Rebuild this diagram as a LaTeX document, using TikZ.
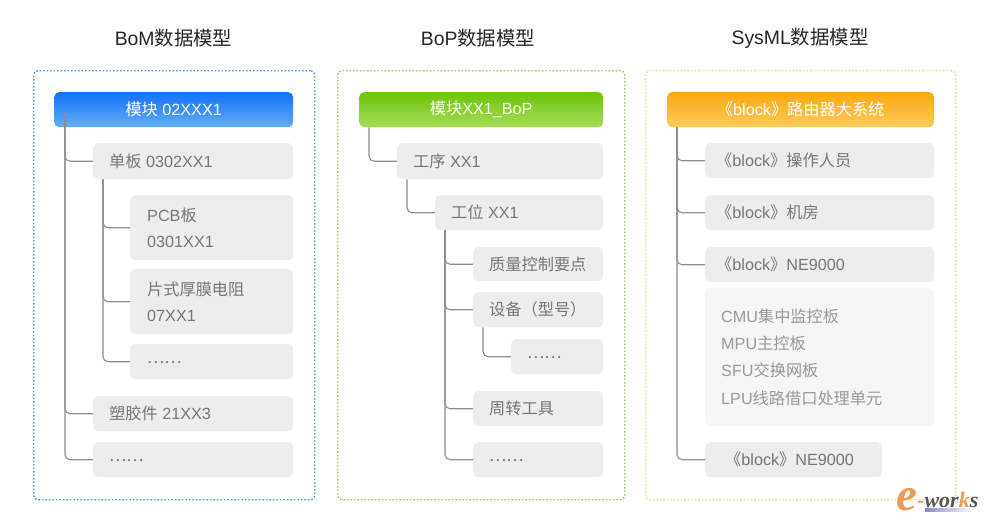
\documentclass[tikz,border=0pt]{standalone}
\usepackage{fontspec}
\setmainfont{Liberation Sans}
\newfontfamily\cjk{Noto Sans CJK SC}
\newfontfamily\logofont{Liberation Serif}
\newcommand{\zh}[1]{{\cjk #1}}
\newcommand{\dotsz}{\raisebox{-2.5pt}[\height][\depth]{\zh{……}}}
\definecolor{txtgray}{HTML}{777777}
\definecolor{txtlight}{HTML}{999999}
\definecolor{boxfill}{HTML}{EDEDED}
\definecolor{boxlight}{HTML}{F6F6F6}
\definecolor{linegray}{HTML}{8E8E8E}
\tikzset{
  x=1pt,y=-1pt,
  framebox/.style={draw=#1,line width=1.4pt,dash pattern=on 1.5pt off 2pt,rounded corners=4pt},
  hdr/.style n args={2}{anchor=north west,rounded corners=5pt,top color=#1,bottom color=#2,text=white,
    font=\fontsize{16.2}{18}\selectfont,inner sep=0pt,align=center},
  gbox/.style={anchor=north west,rounded corners=5pt,fill=boxfill,text=txtgray,
    font=\fontsize{16.2}{25.5}\selectfont,inner sep=0pt},
  lbox/.style={gbox,fill=boxlight,text=txtlight},
  conn/.style={draw=linegray,line width=1.1pt,rounded corners=5pt},
  ttl/.style={font=\fontsize{19.4}{22}\selectfont,text=black!85,inner sep=0pt},
}
\newcommand{\lb}[7]{%
  \pgfmathsetlengthmacro{\bw}{#4-#2}\pgfmathsetlengthmacro{\bh}{#5-#3}%
  \pgfmathsetlengthmacro{\tw}{#4-#2-#6}%
  \node[gbox,minimum width=\bw,minimum height=\bh] (#1) at (#2,#3)
    {\hspace*{#6pt}\parbox[c]{\tw}{\raggedright #7}};}
\newcommand{\hb}[8]{%
  \pgfmathsetlengthmacro{\bw}{#4-#2}\pgfmathsetlengthmacro{\bh}{#5-#3}%
  \node[hdr={#6}{#7},minimum width=\bw,minimum height=\bh] (#1) at (#2,#3) {#8};}
\begin{document}
\begin{tikzpicture}
\useasboundingbox (0,0) rectangle (989,523);
\fill[white] (0,0) rectangle (989,523);
% titles
\node[ttl] (t1) at (173.5,38) {BoM\zh{数据模型}};
\node[ttl] (t2) at (478,38) {BoP\zh{数据模型}};
\node[ttl] (t3) at (800,38) {SysML\zh{数据模型}};
% frames
\definecolor{fblue}{HTML}{4C94DC}
\definecolor{fgreen}{HTML}{92C95A}
\definecolor{forange}{HTML}{F9D27A}
\node[framebox=fblue,minimum width=281pt,minimum height=429pt,anchor=north west] (f1) at (33,70) {};
\node[framebox=fgreen,minimum width=287pt,minimum height=429pt,anchor=north west] (f2) at (337,70) {};
\node[framebox=forange,minimum width=310pt,minimum height=429pt,anchor=north west] (f3) at (645,70) {};
% column 1
\definecolor{bluetop}{HTML}{1471FB}\definecolor{bluebot}{HTML}{62AEF5}
\hb{a0}{54}{92}{293}{127}{bluetop}{bluebot}{\zh{模块} 02XXX1}
\lb{a1}{93}{143}{293}{179}{16}{\zh{单板} 0302XX1}
\lb{a2}{130}{195}{293}{260}{17}{PCB\zh{板}\\0301XX1}
\lb{a3}{130}{269}{293}{334}{17}{\zh{片式厚膜电阻}\\07XX1}
\lb{a4}{130}{344}{293}{379}{17}{\dotsz}
\lb{a5}{93}{396}{293}{431}{16}{\zh{塑胶件} 21XX3}
\lb{a6}{93}{442}{293}{477}{16}{\dotsz}
\coordinate (a0s) at ([shift={(11,-14)}]a0.south west);
\draw[conn] (a0s) |- (a1.west);
\draw[conn] (a0s) |- (a5.west);
\draw[conn] (a0s) |- (a6.west);
\draw[conn] ([xshift=10pt]a1.south west) |- (a2.west);
\draw[conn] ([xshift=10pt]a1.south west) |- (a3.west);
\draw[conn] ([xshift=10pt]a1.south west) |- (a4.west);
% column 2
\definecolor{greentop}{HTML}{6CC508}\definecolor{greenbot}{HTML}{A5DC5A}
\hb{b0}{359}{92}{603}{127}{greentop}{greenbot}{\zh{模块}XX1\_BoP}
\lb{b1}{397}{143}{603}{179}{16}{\zh{工序} XX1}
\lb{b2}{435}{195}{603}{230}{16}{\zh{工位} XX1}
\lb{b3}{473}{247}{603}{281}{16}{\zh{质量控制要点}}
\lb{b4}{473}{292}{603}{327}{16}{\zh{设备（型号）}}
\lb{b5}{511}{339}{603}{374}{16}{\dotsz}
\lb{b6}{473}{391}{603}{426}{16}{\zh{周转工具}}
\lb{b7}{473}{442}{603}{477}{16}{\dotsz}
\draw[conn] ([xshift=10pt]b0.south west) |- (b1.west);
\draw[conn] ([xshift=10pt]b1.south west) |- (b2.west);
\draw[conn] ([xshift=10pt]b2.south west) |- (b3.west);
\draw[conn] ([xshift=10pt]b2.south west) |- (b4.west);
\draw[conn] ([xshift=10pt]b2.south west) |- (b6.west);
\draw[conn] ([xshift=10pt]b2.south west) |- (b7.west);
\draw[conn] ([xshift=10pt]b4.south west) |- (b5.west);
% column 3
\definecolor{orangetop}{HTML}{FBA90F}\definecolor{orangebot}{HTML}{FCCB5C}
\hb{c0}{667}{92}{934}{127}{orangetop}{orangebot}{\zh{《}block\zh{》路由器大系统}}
\lb{c1}{705}{143}{934}{178}{11}{\zh{《}block\zh{》操作人员}}
\lb{c2}{705}{195}{934}{230}{11}{\zh{《}block\zh{》机房}}
\lb{c3}{705}{247}{934}{282}{11}{\zh{《}block\zh{》}NE9000}
\pgfmathsetlengthmacro{\bw}{229}\pgfmathsetlengthmacro{\bh}{138}
\node[lbox,minimum width=\bw,minimum height=\bh,font=\fontsize{16.2}{27.2}\selectfont] (c4) at (705,288)
  {\hspace*{16pt}\parbox[c]{213pt}{\raggedright CMU\zh{集中监控板}\\MPU\zh{主控板}\\SFU\zh{交换网板}\\LPU\zh{线路借口处理单元}}};
\lb{c5}{705}{442}{882}{477}{20}{\zh{《}block\zh{》}NE9000}
\draw[conn] ([xshift=10pt]c0.south west) |- (c1.west);
\draw[conn] ([xshift=10pt]c0.south west) |- (c2.west);
\draw[conn] ([xshift=10pt]c0.south west) |- (c3.west);
\draw[conn] ([xshift=10pt]c0.south west) |- (c5.west);
% e-works logo
\definecolor{logoorange}{HTML}{EE9A55}
\definecolor{logodark}{HTML}{555555}
\node[inner sep=0pt,text=logoorange,font=\logofont\bfseries\itshape\fontsize{47}{47}\selectfont] (le) at (907,500) {e};
\node[inner sep=0pt,anchor=west,font=\logofont\bfseries\itshape\fontsize{22}{22}\selectfont,text=logodark] (lw) at (917,500)
  {\textcolor{logoorange}{-}wor\textcolor{logoorange}{k}s};
\shade[left color=blue!30!gray!70,right color=white] (925,508) rectangle (974,511);
\end{tikzpicture}
\end{document}
